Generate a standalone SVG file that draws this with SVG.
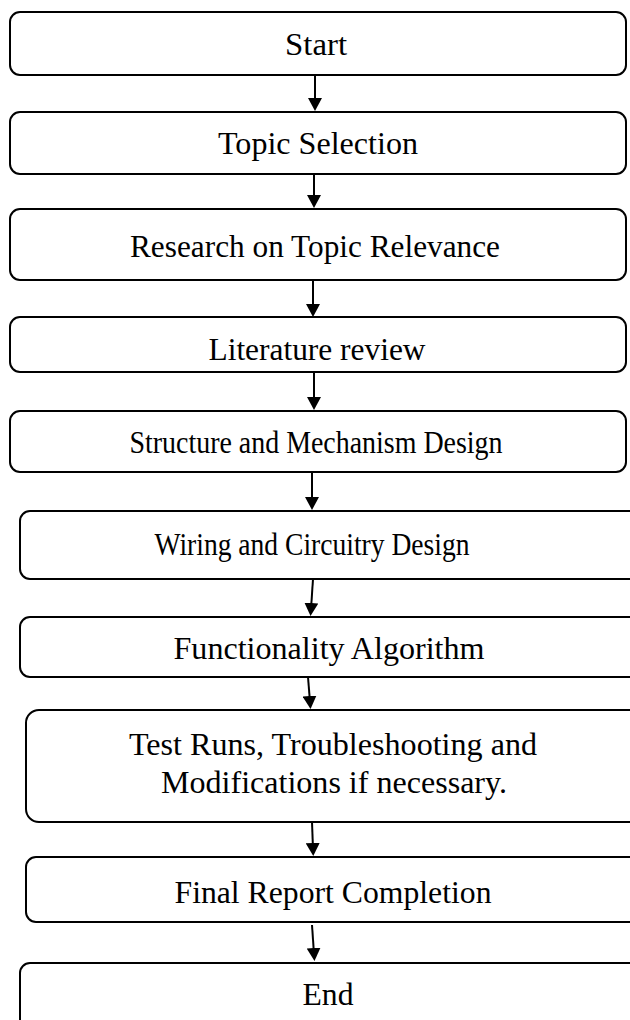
<svg xmlns="http://www.w3.org/2000/svg" width="630" height="1020" viewBox="0 0 630 1020">
<style>
.box{fill:#fff;stroke:#000;stroke-width:2}
.t{font-family:"Liberation Serif","Times New Roman",serif;font-size:32px;fill:#000;text-anchor:middle}
.c{stroke:#000;stroke-width:2;fill:none;marker-end:url(#ah)}
</style>
<defs>
<marker id="ah" viewBox="0 0 13 14" refX="6" refY="7" markerWidth="13" markerHeight="14" markerUnits="userSpaceOnUse" orient="auto">
<path d="M0,0 L13,7 L0,14 z" fill="#000"/>
</marker>
</defs>
<rect width="630" height="1020" fill="#fff"/>
<g id="n1"><rect class="box" x="10" y="12" width="616" height="63" rx="10"/><text class="t" x="316" y="55" textLength="62" lengthAdjust="spacingAndGlyphs">Start</text></g>
<g id="n2"><rect class="box" x="10" y="112" width="616" height="62" rx="10"/><text class="t" x="318" y="154" textLength="200" lengthAdjust="spacingAndGlyphs">Topic Selection</text></g>
<g id="n3"><rect class="box" x="10" y="209" width="616" height="71" rx="10"/><text class="t" x="315" y="257" textLength="370" lengthAdjust="spacingAndGlyphs">Research on Topic Relevance</text></g>
<g id="n4"><rect class="box" x="10" y="317" width="616" height="55" rx="10"/><text class="t" x="317" y="360" textLength="217" lengthAdjust="spacingAndGlyphs">Literature review</text></g>
<g id="n5"><rect class="box" x="10" y="411" width="616" height="61" rx="10"/><text class="t" x="316" y="453" textLength="373" lengthAdjust="spacingAndGlyphs">Structure and Mechanism Design</text></g>
<g id="n6"><rect class="box" x="20" y="511" width="630" height="68" rx="10"/><text class="t" x="312" y="555" textLength="315" lengthAdjust="spacingAndGlyphs">Wiring and Circuitry Design</text></g>
<g id="n7"><rect class="box" x="20" y="617" width="630" height="60" rx="10"/><text class="t" x="329" y="659" textLength="311" lengthAdjust="spacingAndGlyphs">Functionality Algorithm</text></g>
<g id="n8"><rect class="box" x="26" y="710" width="630" height="112" rx="13"/><text class="t" x="333" y="755" textLength="408" lengthAdjust="spacingAndGlyphs">Test Runs, Troubleshooting and</text><text class="t" x="334" y="793" textLength="346" lengthAdjust="spacingAndGlyphs">Modifications if necessary.</text></g>
<g id="n9"><rect class="box" x="26" y="857" width="630" height="65" rx="10"/><text class="t" x="333" y="903" textLength="317" lengthAdjust="spacingAndGlyphs">Final Report Completion</text></g>
<g id="n10"><rect class="box" x="20" y="963" width="630" height="80" rx="10"/><text class="t" x="328" y="1005" textLength="51" lengthAdjust="spacingAndGlyphs">End</text></g>
<g id="connectors">
<line class="c" x1="315" y1="75" x2="315" y2="104"/>
<line class="c" x1="314" y1="174" x2="314" y2="201"/>
<line class="c" x1="313" y1="280" x2="313" y2="310"/>
<line class="c" x1="314" y1="372" x2="314" y2="403"/>
<line class="c" x1="312" y1="472" x2="312" y2="503"/>
<line class="c" x1="313" y1="579" x2="311" y2="609"/>
<line class="c" x1="308" y1="677" x2="310" y2="702"/>
<line class="c" x1="312" y1="822" x2="313" y2="849"/>
<line class="c" x1="312" y1="925" x2="314" y2="954"/>
</g>
</svg>
